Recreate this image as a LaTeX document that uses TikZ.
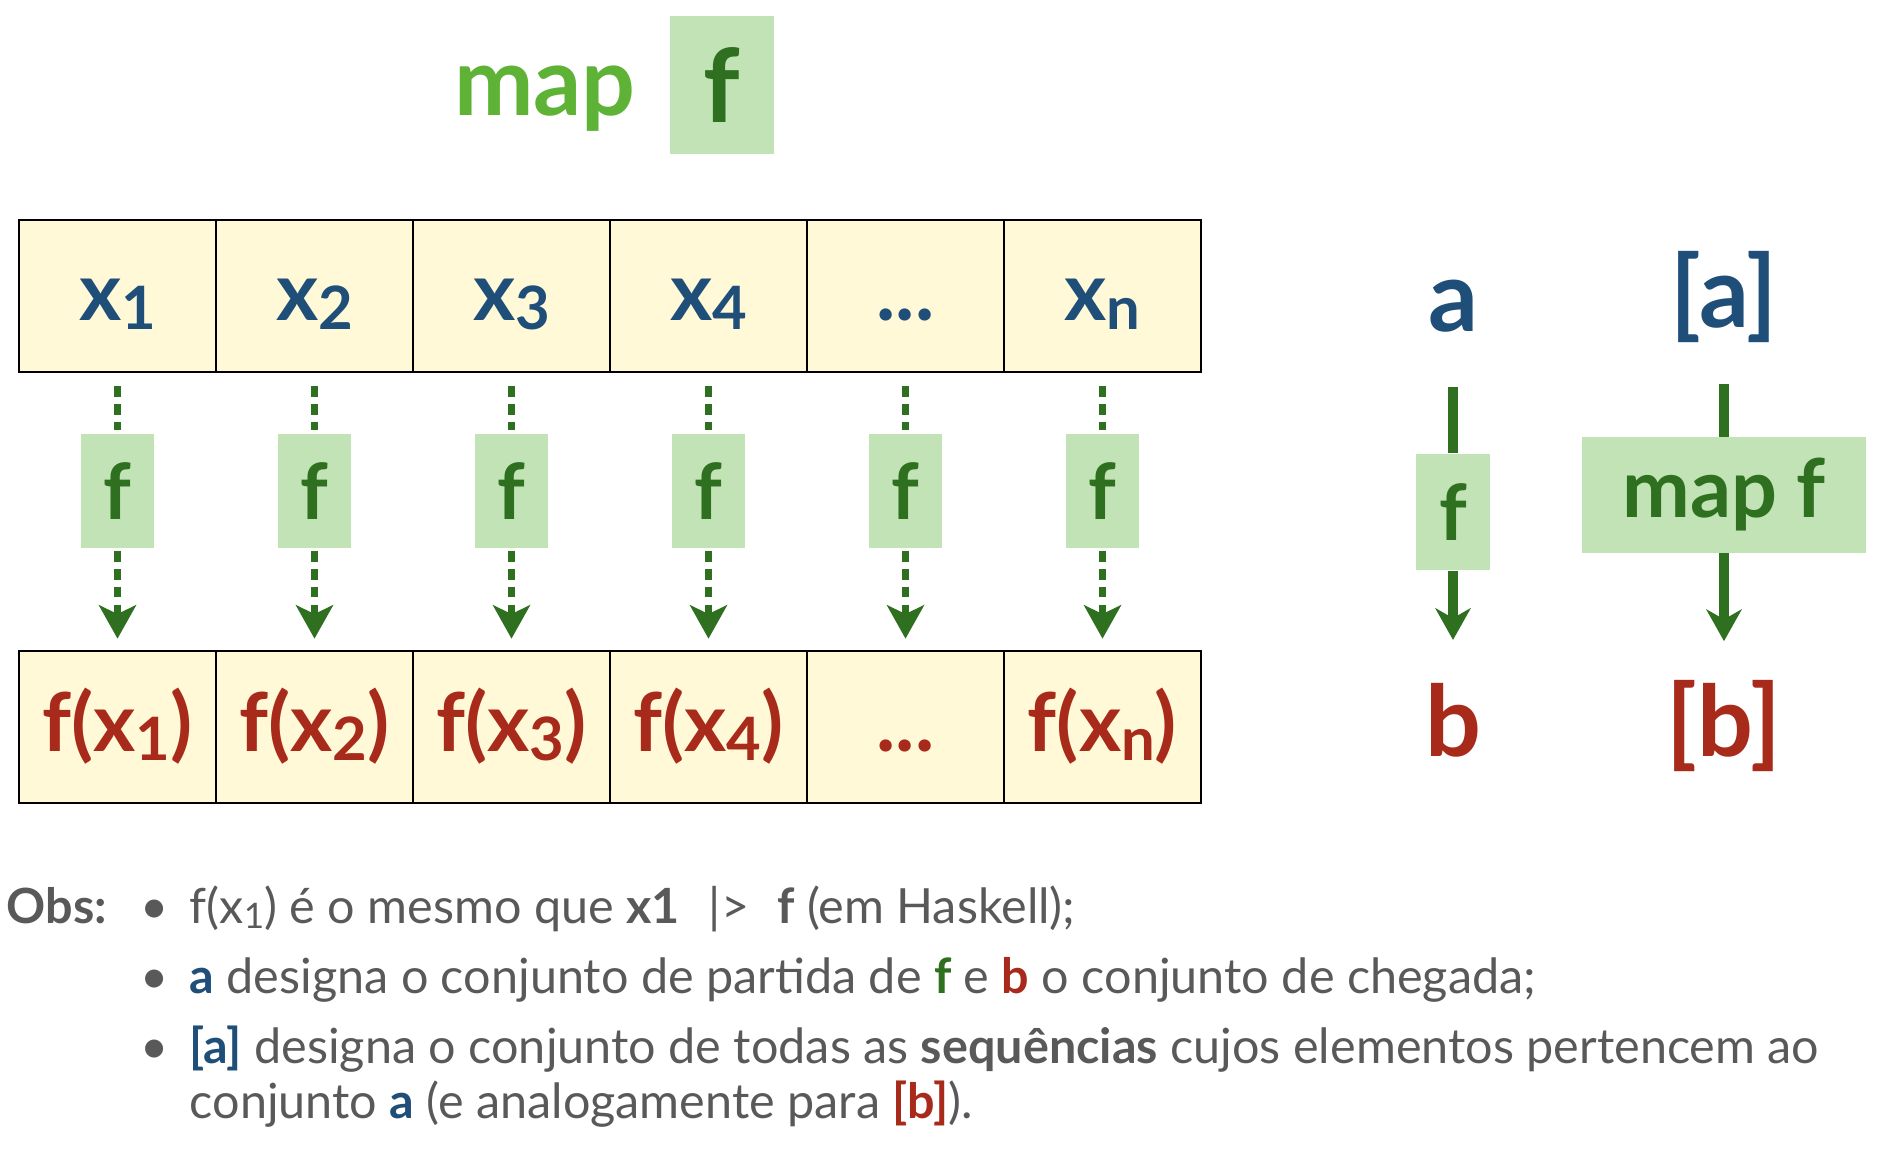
\documentclass[tikz,border=0pt]{standalone}
\usepackage{fontspec}
\setmainfont{Lato}
\usetikzlibrary{arrows.meta}

\definecolor{listblue}{RGB}{31,78,121}
\definecolor{listred}{RGB}{168,42,26}
\definecolor{fgreen}{RGB}{47,112,32}
\definecolor{mapgreen}{RGB}{94,178,54}
\definecolor{boxgreen}{RGB}{193,227,181}
\definecolor{cellyellow}{RGB}{255,249,215}
\definecolor{obsgray}{RGB}{89,89,89}

\newcommand{\cellsub}[1]{\raisebox{-2.5pt}{\fontsize{17}{17}\selectfont #1}}
\newcommand{\obssub}[1]{\raisebox{-1.5pt}{\fontsize{10}{10}\selectfont #1}}

\tikzset{
  cell/.style={draw=black, line width=0.8pt, fill=cellyellow, inner sep=0pt,
    minimum width=1.97cm, minimum height=1.52cm, text height=18pt, text depth=4pt,
    font=\fontsize{23}{23}\selectfont\bfseries},
  incell/.style={cell, text=listblue},
  outcell/.style={cell, text=listred},
  fbox/.style={fill=boxgreen, text=fgreen, inner sep=0pt,
    minimum width=0.72cm, minimum height=1.13cm, font=\fontsize{22}{22}\selectfont\bfseries},
  dotline/.style={draw=fgreen, line width=2pt, dash pattern=on 3.1pt off 2pt},
  dotarrow/.style={dotline, -{Stealth[length=9.5pt,width=10.5pt,inset=2.5pt]}},
  solidarrow/.style={draw=fgreen, line width=2.6pt, -{Stealth[length=9pt,width=10pt,inset=2.8pt]}},
  setlbl/.style={anchor=base, inner sep=0pt, font=\fontsize{28}{28}\selectfont\bfseries},
  obsline/.style={anchor=base west, inner sep=0pt, text=obsgray, font=\fontsize{13.8}{13.8}\selectfont}
}

\begin{document}
\begin{tikzpicture}[x=0.01cm, y=-0.01cm]
  \useasboundingbox (0,0) rectangle (1878,1150);

  % title
  \node[anchor=base, inner sep=0pt, text=mapgreen, font=\fontsize{27}{27}\selectfont\bfseries] (maptitle) at (545,115) {map};
  \node[fbox, minimum width=1.04cm, minimum height=1.38cm, font=\fontsize{29}{29}\selectfont\bfseries] (ftitle) at (722,85) {f};

  % input list
  \node[incell] (x1) at (117.5,296) {x\cellsub{1}};
  \node[incell] (x2) at (314.5,296) {x\cellsub{2}};
  \node[incell] (x3) at (511.5,296) {x\cellsub{3}};
  \node[incell] (x4) at (708.5,296) {x\cellsub{4}};
  \node[incell] (x5) at (905.5,296) {...};
  \node[incell] (x6) at (1102.5,296) {x\cellsub{n}};

  % the f boxes
  \node[fbox] (f1) at (117.5,491) {f};
  \node[fbox] (f2) at (314.5,491) {f};
  \node[fbox] (f3) at (511.5,491) {f};
  \node[fbox] (f4) at (708.5,491) {f};
  \node[fbox] (f5) at (905.5,491) {f};
  \node[fbox] (f6) at (1102.5,491) {f};

  % output list
  \node[outcell] (y1) at (117.5,727) {f(x\cellsub{1})};
  \node[outcell] (y2) at (314.5,727) {f(x\cellsub{2})};
  \node[outcell] (y3) at (511.5,727) {f(x\cellsub{3})};
  \node[outcell] (y4) at (708.5,727) {f(x\cellsub{4})};
  \node[outcell] (y5) at (905.5,727) {...};
  \node[outcell] (y6) at (1102.5,727) {f(x\cellsub{n})};

  \draw[dotline, shorten <=3.7pt, shorten >=1pt] (x1) -- (f1);
  \draw[dotline, shorten <=3.7pt, shorten >=1pt] (x2) -- (f2);
  \draw[dotline, shorten <=3.7pt, shorten >=1pt] (x3) -- (f3);
  \draw[dotline, shorten <=3.7pt, shorten >=1pt] (x4) -- (f4);
  \draw[dotline, shorten <=3.7pt, shorten >=1pt] (x5) -- (f5);
  \draw[dotline, shorten <=3.7pt, shorten >=1pt] (x6) -- (f6);
  \draw[dotarrow, shorten <=0.7pt, shorten >=3.1pt] (f1) -- (y1);
  \draw[dotarrow, shorten <=0.7pt, shorten >=3.1pt] (f2) -- (y2);
  \draw[dotarrow, shorten <=0.7pt, shorten >=3.1pt] (f3) -- (y3);
  \draw[dotarrow, shorten <=0.7pt, shorten >=3.1pt] (f4) -- (y4);
  \draw[dotarrow, shorten <=0.7pt, shorten >=3.1pt] (f5) -- (y5);
  \draw[dotarrow, shorten <=0.7pt, shorten >=3.1pt] (f6) -- (y6);

  % types
  \node[setlbl, text=listblue] (a) at (1453,331) {a};
  \node[fbox, minimum width=0.73cm, minimum height=1.16cm] (fa) at (1453,512) {f};
  \node[setlbl, text=listred] (b) at (1453,756) {b};
  \node[setlbl, text=listblue] (la) at (1724,327) {[a]};
  \node[fbox, minimum width=2.84cm, minimum height=1.15cm, font=\fontsize{23}{23}\selectfont\bfseries] (mapf) at (1724,495) {map f};
  \node[setlbl, text=listred] (lb) at (1724,756) {[b]};

  \draw[solidarrow, -, shorten <=15.4pt] (a) -- (fa);
  \draw[solidarrow, shorten >=12pt] (fa) -- (b);
  \draw[solidarrow, -, shorten <=11.7pt] (la) -- (mapf);
  \draw[solidarrow, shorten >=10.8pt] (mapf) -- (lb);

  % notes
  \node[obsline, font=\fontsize{13.8}{13.8}\selectfont\bfseries] (obs) at (6,923) {Obs:};
  \node[obsline] (dot1) at (140,923) {•};
  \node[obsline] (dot2) at (140,993) {•};
  \node[obsline] (dot3) at (140,1063) {•};
  \node[obsline] (note1) at (189,923) {f(x\obssub{1}) é o mesmo que \textbf{x1}\hspace{0.6em}|>\hspace{0.58em}\textbf{f} (em Haskell);};
  \node[obsline] (note2) at (189,993) {\textbf{\textcolor{listblue}{a}} designa o conjunto de partida de \textbf{\textcolor{fgreen}{f}} e \textbf{\textcolor{listred}{b}} o conjunto de chegada;};
  \node[obsline] (note3) at (189,1063) {\textbf{\textcolor{listblue}{[a]}} designa o conjunto de todas as \textbf{sequências} cujos elementos pertencem ao};
  \node[obsline] (note4) at (189,1118) {conjunto \textbf{\textcolor{listblue}{a}} (e analogamente para \textbf{\textcolor{listred}{[b]}}).};
\end{tikzpicture}
\end{document}
